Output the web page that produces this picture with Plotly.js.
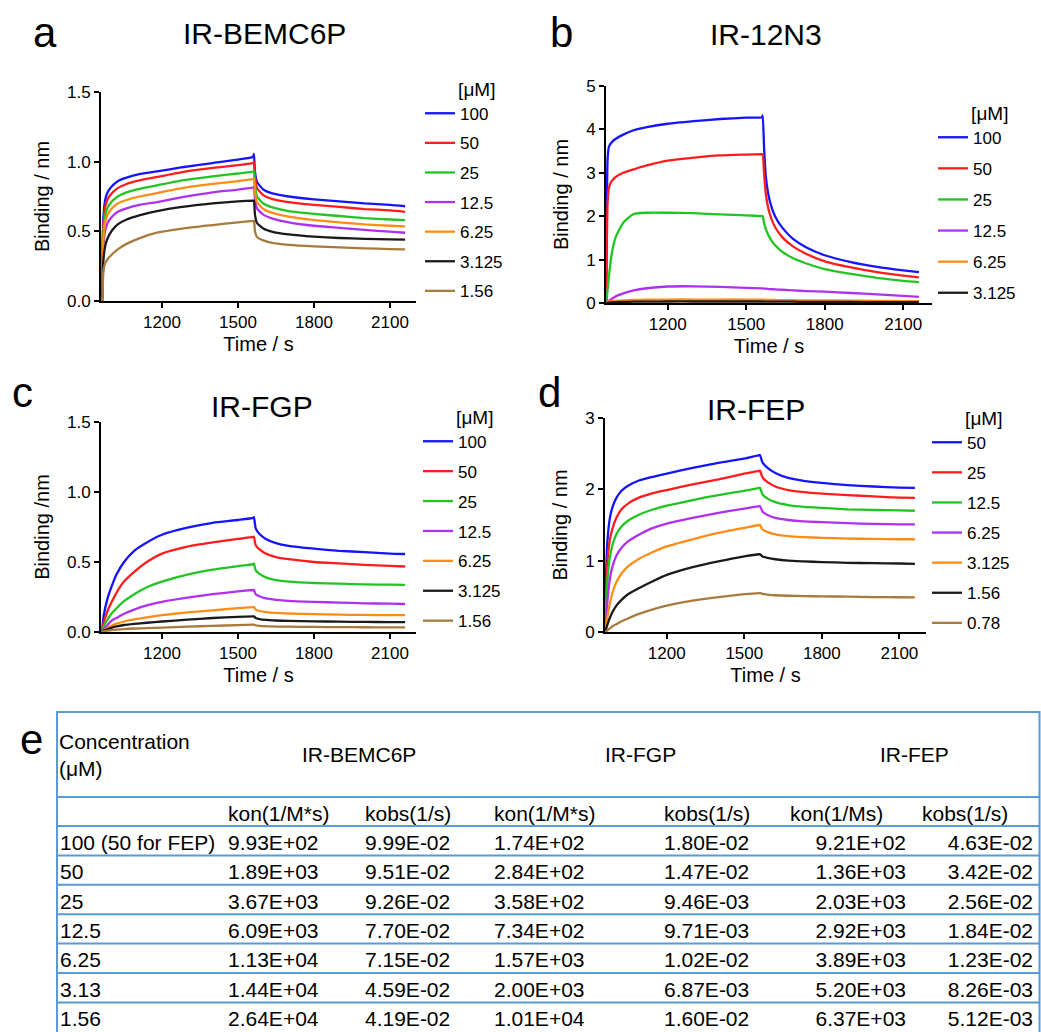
<!DOCTYPE html>
<html>
<head>
<meta charset="utf-8">
<script src="https://cdn.plot.ly/plotly-3.0.1.min.js"></script>
<style>
html,body{margin:0;padding:0;background:#fff;overflow:hidden;}
#chart{width:1041px;height:1032px;}
</style>
</head>
<body>
<div id="chart"></div>
<script>
// ---------- Panel a: IR-BEMC6P ----------
const tA = [963, 965, 968, 975, 985, 1000, 1025, 1060, 1110, 1180, 1280, 1400, 1500, 1560, 1563, 1567, 1575, 1600, 1640, 1700, 1800, 1900, 2000, 2100, 2160];
const labelsA = ["100", "50", "25", "12.5", "6.25", "3.125", "1.56"];
const a100  = [0, 0.35, 0.58, 0.72, 0.78, 0.82, 0.86, 0.885, 0.91, 0.93, 0.96, 0.99, 1.015, 1.035, 1.055, 0.93, 0.855, 0.8, 0.77, 0.75, 0.73, 0.715, 0.70, 0.69, 0.68];
const a50   = [0, 0.3, 0.53, 0.67, 0.73, 0.77, 0.81, 0.84, 0.865, 0.89, 0.925, 0.955, 0.975, 0.99, 1.0, 0.89, 0.81, 0.76, 0.73, 0.71, 0.69, 0.675, 0.66, 0.65, 0.64];
const a25   = [0, 0.26, 0.48, 0.61, 0.67, 0.71, 0.75, 0.78, 0.805, 0.83, 0.865, 0.895, 0.915, 0.93, 0.935, 0.83, 0.75, 0.7, 0.67, 0.645, 0.625, 0.61, 0.595, 0.585, 0.58];
const a12_5 = [0, 0.17, 0.38, 0.5, 0.56, 0.6, 0.64, 0.665, 0.69, 0.71, 0.745, 0.78, 0.80, 0.815, 0.82, 0.73, 0.665, 0.62, 0.59, 0.565, 0.54, 0.525, 0.51, 0.498, 0.49];
const a6_25 = [0, 0.2, 0.43, 0.56, 0.62, 0.66, 0.70, 0.725, 0.75, 0.775, 0.81, 0.84, 0.86, 0.875, 0.88, 0.78, 0.71, 0.66, 0.63, 0.605, 0.58, 0.565, 0.55, 0.54, 0.535];
const a3_125= [0, 0.1, 0.28, 0.39, 0.45, 0.5, 0.55, 0.585, 0.615, 0.645, 0.675, 0.70, 0.715, 0.72, 0.72, 0.62, 0.56, 0.52, 0.495, 0.478, 0.462, 0.452, 0.446, 0.442, 0.44];
const a1_56 = [0, 0.04, 0.2, 0.27, 0.3, 0.33, 0.37, 0.41, 0.45, 0.49, 0.52, 0.545, 0.565, 0.575, 0.575, 0.5, 0.46, 0.435, 0.415, 0.403, 0.392, 0.385, 0.378, 0.373, 0.37];

// ---------- Panel b: IR-12N3 ----------
const tB = [965, 967, 970, 975, 985, 1000, 1030, 1070, 1120, 1200, 1300, 1400, 1500, 1560, 1563, 1568, 1575, 1590, 1610, 1640, 1680, 1730, 1800, 1900, 2000, 2100, 2160];
const labelsB = ["100", "50", "25", "12.5", "6.25", "3.125"];
const b100  = [0, 2.0, 3.3, 3.6, 3.7, 3.78, 3.88, 3.98, 4.05, 4.13, 4.19, 4.24, 4.27, 4.28, 4.32, 3.6, 2.9, 2.35, 2.0, 1.72, 1.47, 1.28, 1.1, 0.94, 0.83, 0.75, 0.71];
const b50   = [0, 1.2, 2.3, 2.65, 2.8, 2.9, 3.0, 3.08, 3.17, 3.28, 3.35, 3.4, 3.42, 3.43, 3.43, 3.0, 2.5, 2.05, 1.75, 1.5, 1.3, 1.13, 0.96, 0.82, 0.71, 0.63, 0.59];
const b25   = [0, 0.1, 0.3, 0.6, 1.1, 1.5, 1.85, 2.05, 2.08, 2.08, 2.07, 2.04, 2.02, 2.0, 2.0, 1.85, 1.7, 1.5, 1.33, 1.17, 1.03, 0.91, 0.78, 0.67, 0.58, 0.51, 0.48];
const b12_5 = [0, 0.01, 0.03, 0.05, 0.09, 0.15, 0.22, 0.29, 0.34, 0.38, 0.385, 0.37, 0.35, 0.335, 0.335, 0.33, 0.33, 0.32, 0.315, 0.305, 0.29, 0.275, 0.26, 0.23, 0.2, 0.165, 0.14];
const b6_25 = [0, 0.01, 0.02, 0.03, 0.04, 0.05, 0.06, 0.07, 0.075, 0.08, 0.08, 0.08, 0.08, 0.075, 0.075, 0.075, 0.07, 0.07, 0.07, 0.065, 0.065, 0.06, 0.06, 0.055, 0.05, 0.045, 0.04];
const b3_125= [0, 0, 0.005, 0.01, 0.015, 0.02, 0.025, 0.03, 0.03, 0.035, 0.035, 0.035, 0.035, 0.035, 0.035, 0.03, 0.03, 0.03, 0.03, 0.03, 0.03, 0.025, 0.025, 0.025, 0.02, 0.02, 0.02];

// ---------- Panel c: IR-FGP ----------
const tC = [963, 970, 985, 1000, 1020, 1050, 1090, 1140, 1200, 1300, 1400, 1500, 1560, 1563, 1570, 1585, 1610, 1650, 1700, 1800, 1900, 2000, 2100, 2160];
const labelsC = ["100", "50", "25", "12.5", "6.25", "3.125", "1.56"];
const c100  = [0, 0.12, 0.24, 0.32, 0.41, 0.5, 0.58, 0.64, 0.695, 0.745, 0.78, 0.80, 0.815, 0.82, 0.74, 0.70, 0.665, 0.635, 0.615, 0.595, 0.58, 0.57, 0.56, 0.557];
const c50   = [0, 0.07, 0.15, 0.21, 0.28, 0.36, 0.43, 0.5, 0.56, 0.61, 0.64, 0.665, 0.68, 0.68, 0.62, 0.59, 0.56, 0.535, 0.52, 0.5, 0.49, 0.48, 0.472, 0.468];
const c25   = [0, 0.04, 0.09, 0.13, 0.17, 0.22, 0.27, 0.32, 0.36, 0.41, 0.445, 0.47, 0.485, 0.49, 0.44, 0.415, 0.39, 0.37, 0.36, 0.35, 0.345, 0.34, 0.338, 0.337];
const c12_5 = [0, 0.02, 0.05, 0.08, 0.1, 0.13, 0.16, 0.19, 0.215, 0.245, 0.27, 0.29, 0.3, 0.3, 0.27, 0.255, 0.24, 0.23, 0.222, 0.215, 0.21, 0.205, 0.202, 0.2];
const c6_25 = [0, 0.01, 0.03, 0.045, 0.06, 0.075, 0.09, 0.105, 0.12, 0.14, 0.155, 0.17, 0.178, 0.178, 0.16, 0.15, 0.142, 0.136, 0.132, 0.127, 0.124, 0.122, 0.12, 0.12];
const c3_125= [0, 0.01, 0.02, 0.03, 0.04, 0.05, 0.058, 0.066, 0.075, 0.088, 0.1, 0.108, 0.112, 0.112, 0.1, 0.092, 0.086, 0.082, 0.079, 0.076, 0.074, 0.072, 0.071, 0.071];
const c1_56 = [0, 0.005, 0.01, 0.013, 0.017, 0.021, 0.025, 0.028, 0.031, 0.038, 0.044, 0.049, 0.052, 0.052, 0.047, 0.044, 0.041, 0.039, 0.038, 0.036, 0.035, 0.034, 0.033, 0.033];

// ---------- Panel d: IR-FEP ----------
const tD = [963, 966, 972, 980, 990, 1005, 1025, 1050, 1090, 1140, 1200, 1300, 1400, 1500, 1558, 1561, 1570, 1590, 1620, 1670, 1730, 1800, 1900, 2000, 2100, 2160];
const labelsD = ["50", "25", "12.5", "6.25", "3.125", "1.56", "0.78"];
const d50   = [0, 0.9, 1.35, 1.6, 1.75, 1.88, 1.98, 2.05, 2.12, 2.17, 2.22, 2.3, 2.37, 2.43, 2.48, 2.48, 2.38, 2.3, 2.23, 2.16, 2.12, 2.09, 2.06, 2.04, 2.025, 2.02];
const d25   = [0, 0.6, 1.05, 1.3, 1.45, 1.6, 1.72, 1.8, 1.88, 1.94, 1.99, 2.07, 2.14, 2.22, 2.26, 2.26, 2.17, 2.1, 2.04, 1.99, 1.96, 1.94, 1.92, 1.9, 1.885, 1.88];
const d12_5 = [0, 0.4, 0.8, 1.05, 1.22, 1.37, 1.48, 1.56, 1.64, 1.71, 1.77, 1.85, 1.92, 1.98, 2.02, 2.02, 1.93, 1.87, 1.82, 1.78, 1.755, 1.74, 1.72, 1.71, 1.705, 1.70];
const d6_25 = [0, 0.2, 0.5, 0.75, 0.92, 1.07, 1.18, 1.27, 1.36, 1.45, 1.52, 1.6, 1.67, 1.73, 1.765, 1.765, 1.69, 1.64, 1.6, 1.57, 1.55, 1.54, 1.525, 1.515, 1.51, 1.51];
const d3_125= [0, 0.1, 0.25, 0.4, 0.55, 0.7, 0.82, 0.92, 1.02, 1.11, 1.2, 1.3, 1.39, 1.46, 1.5, 1.5, 1.44, 1.4, 1.37, 1.345, 1.33, 1.32, 1.31, 1.305, 1.3, 1.3];
const d1_56 = [0, 0.05, 0.12, 0.2, 0.28, 0.37, 0.45, 0.53, 0.61, 0.7, 0.8, 0.91, 0.99, 1.06, 1.09, 1.09, 1.06, 1.04, 1.02, 1.0, 0.99, 0.98, 0.97, 0.965, 0.96, 0.955];
const d0_78 = [0, 0.01, 0.03, 0.05, 0.08, 0.11, 0.15, 0.19, 0.25, 0.31, 0.37, 0.44, 0.49, 0.53, 0.545, 0.545, 0.535, 0.525, 0.515, 0.508, 0.503, 0.5, 0.495, 0.49, 0.487, 0.485];

// ---------- Panel e: kinetics table ----------
const tableHeader = ["", "kon(1/M*s)", "kobs(1/s)", "kon(1/M*s)", "kobs(1/s)", "kon(1/Ms)", "kobs(1/s)"];
const groupNames = ["IR-BEMC6P", "IR-FGP", "IR-FEP"];
const concCol  = ["100\u00a0(50\u00a0for\u00a0FEP)", "50", "25", "12.5", "6.25", "3.13", "1.56"];
const bemKon   = ["9.93E+02", "1.89E+03", "3.67E+03", "6.09E+03", "1.13E+04", "1.44E+04", "2.64E+04"];
const bemKobs  = ["9.99E-02", "9.51E-02", "9.26E-02", "7.70E-02", "7.15E-02", "4.59E-02", "4.19E-02"];
const fgpKon   = ["1.74E+02", "2.84E+02", "3.58E+02", "7.34E+02", "1.57E+03", "2.00E+03", "1.01E+04"];
const fgpKobs  = ["1.80E-02", "1.47E-02", "9.46E-03", "9.71E-03", "1.02E-02", "6.87E-03", "1.60E-02"];
const fepKon   = ["9.21E+02", "1.36E+03", "2.03E+03", "2.92E+03", "3.89E+03", "5.20E+03", "6.37E+03"];
const fepKobs  = ["4.63E-02", "3.42E-02", "2.56E-02", "1.84E-02", "1.23E-02", "8.26E-03", "5.12E-03"];

// ---------- styling ----------
const W = 1041, H = 1032;
const FONT = "Liberation Sans, Arial, Helvetica, sans-serif";
const colors = ["#1414ff", "#ff1c1c", "#22c422", "#b030f0", "#ff8c17", "#1a1a1a", "#a87a3c"];
const px = v => v / W;
const py = v => 1 - v / H;

const traces = [];
function addPanel(t, series, labels, xa, ya, legendId) {
  series.forEach((s, i) => {
    traces.push({
      type: "scatter", mode: "lines", x: t, y: s, name: labels[i],
      xaxis: xa, yaxis: ya, legend: legendId, legendgroup: legendId + "_" + i,
      line: {color: colors[i], width: 2.3, shape: "spline", smoothing: 0.5}, hoverinfo: "skip"
    });
  });
}
addPanel(tA, [a100, a50, a25, a12_5, a6_25, a3_125, a1_56], labelsA, "x", "y", "legend");
addPanel(tB, [b100, b50, b25, b12_5, b6_25, b3_125], labelsB, "x2", "y2", "legend2");
addPanel(tC, [c100, c50, c25, c12_5, c6_25, c3_125, c1_56], labelsC, "x3", "y3", "legend3");
addPanel(tD, [d50, d25, d12_5, d6_25, d3_125, d1_56, d0_78], labelsD, "x4", "y4", "legend4");

// table trace
const rowH = 29.4;
const colEdges = [52, 220, 357, 486, 656, 782, 914, 1041];
const colWidths = colEdges.slice(1).map((e, i) => e - colEdges[i]);
traces.push({
  type: "table",
  domain: {x: [px(52), 1], y: [0, py(797)]},
  columnwidth: colWidths,
  header: {
    values: tableHeader,
    align: ["left", "left", "left", "left", "left", "left", "left"],
    height: 29,
    fill: {color: "rgba(0,0,0,0)"},
    line: {width: 0, color: "rgba(0,0,0,0)"},
    font: {family: FONT, size: 21, color: "#000"}
  },
  cells: {
    values: [concCol, bemKon, bemKobs, fgpKon, fgpKobs, fepKon, fepKobs],
    align: ["left", "left", "left", "left", "left", "right", "right"],
    height: rowH,
    fill: {color: "rgba(0,0,0,0)"},
    line: {width: 0, color: "rgba(0,0,0,0)"},
    font: {family: FONT, size: 21, color: "#000"}
  }
});

function xAxis(domain, range) {
  return {
    domain: domain, range: range, tickvals: [1200, 1500, 1800, 2100],
    showgrid: false, zeroline: false, showline: true, linecolor: "#000", linewidth: 2,
    ticks: "outside", ticklen: 5, tickwidth: 2, tickcolor: "#000",
    tickfont: {family: FONT, size: 17, color: "#000"},
    title: {text: "Time / s", font: {family: FONT, size: 20, color: "#000"}, standoff: 6}
  };
}
function yAxis(domain, range, dtick, fmt, title, anchor) {
  return {
    domain: domain, range: range, dtick: dtick, tick0: 0, tickformat: fmt, anchor: anchor,
    showgrid: false, zeroline: false, showline: true, linecolor: "#000", linewidth: 2,
    ticks: "outside", ticklen: 5, tickwidth: 2, tickcolor: "#000",
    tickfont: {family: FONT, size: 17, color: "#000"},
    title: {text: title, font: {family: FONT, size: 20, color: "#000"}, standoff: 12}
  };
}
function legendAt(xpx, ypx, gap) {
  return {
    x: px(xpx), y: py(ypx), xanchor: "left", yanchor: "top",
    bgcolor: "rgba(0,0,0,0)", borderwidth: 0, traceorder: "grouped", tracegroupgap: gap,
    font: {family: FONT, size: 17, color: "#000"},
    title: {text: "[μM]\u00a0\u00a0", side: "top right", font: {family: FONT, size: 19, color: "#000"}}
  };
}

const annotations = [];
function ann(text, x, y, size, xanchor) {
  annotations.push({text: text, x: px(x), y: py(y), xref: "paper", yref: "paper",
    xanchor: xanchor || "center", yanchor: "middle", showarrow: false,
    font: {family: FONT, size: size, color: "#000"}, align: "left"});
}
// panel letters & titles
ann("a", 31, 32, 42, "left");
ann("b", 548, 32, 42, "left");
ann("c", 10, 392, 42, "left");
ann("d", 536, 392, 42, "left");
ann("e", 18, 739, 42, "left");
ann("IR-BEMC6P", 264, 33, 30);
ann("IR-12N3", 766, 34, 30);
ann("IR-FGP", 262, 406, 30);
ann("IR-FEP", 756, 409, 30);
// table group row
ann("Concentration<br>(μM)", 57, 755, 21, "left");
const groupCenters = [359, 640, 914];
groupNames.forEach((g, i) => ann(g, groupCenters[i], 754, 21));

// table rules
const shapes = [];
const BL = "#5b9bd5";
shapes.push({type: "rect", xref: "paper", yref: "paper", x0: px(57), x1: px(1039.5), y0: py(712), y1: py(1040),
  line: {color: BL, width: 2}, fillcolor: "rgba(0,0,0,0)"});
const ruleYs = [797, 826];
for (let i = 1; i < concCol.length; i++) ruleYs.push(826 + i * rowH);
ruleYs.forEach(yv => shapes.push({type: "line", xref: "paper", yref: "paper",
  x0: px(57), x1: px(1039.5), y0: py(yv), y1: py(yv), line: {color: BL, width: 2}}));

const layout = {
  width: W, height: H, margin: {l: 0, r: 0, t: 0, b: 0, autoexpand: false},
  paper_bgcolor: "#fff", plot_bgcolor: "#fff",
  font: {family: FONT, color: "#000"},
  xaxis:  xAxis([px(101), px(416)], [959, 2203]),
  yaxis:  yAxis([py(301), py(92)], [0, 1.5], 0.5, ".1f", "Binding / nm", "x"),
  xaxis2: Object.assign(xAxis([px(606), px(932)], [964, 2210]), {anchor: "y2"}),
  yaxis2: yAxis([py(303), py(86)], [0, 5], 1, "d", "Binding / nm", "x2"),
  xaxis3: Object.assign(xAxis([px(101), px(416)], [959, 2203]), {anchor: "y3"}),
  yaxis3: yAxis([py(632), py(422)], [0, 1.5], 0.5, ".1f", "Binding /nm", "x3"),
  xaxis4: Object.assign(xAxis([px(605), px(926)], [961, 2203]), {anchor: "y4"}),
  yaxis4: yAxis([py(632), py(418)], [0, 3], 1, "d", "Binding / nm", "x4"),
  legend:  legendAt(420, 71, 4.5),
  legend2: legendAt(933, 95, 6),
  legend3: legendAt(418, 399, 4.8),
  legend4: legendAt(927, 400, 5),
  annotations: annotations,
  shapes: shapes,
  showlegend: true
};
layout.xaxis.anchor = "y";

Plotly.newPlot("chart", traces, layout, {displayModeBar: false, staticPlot: true});
</script>
</body>
</html>
